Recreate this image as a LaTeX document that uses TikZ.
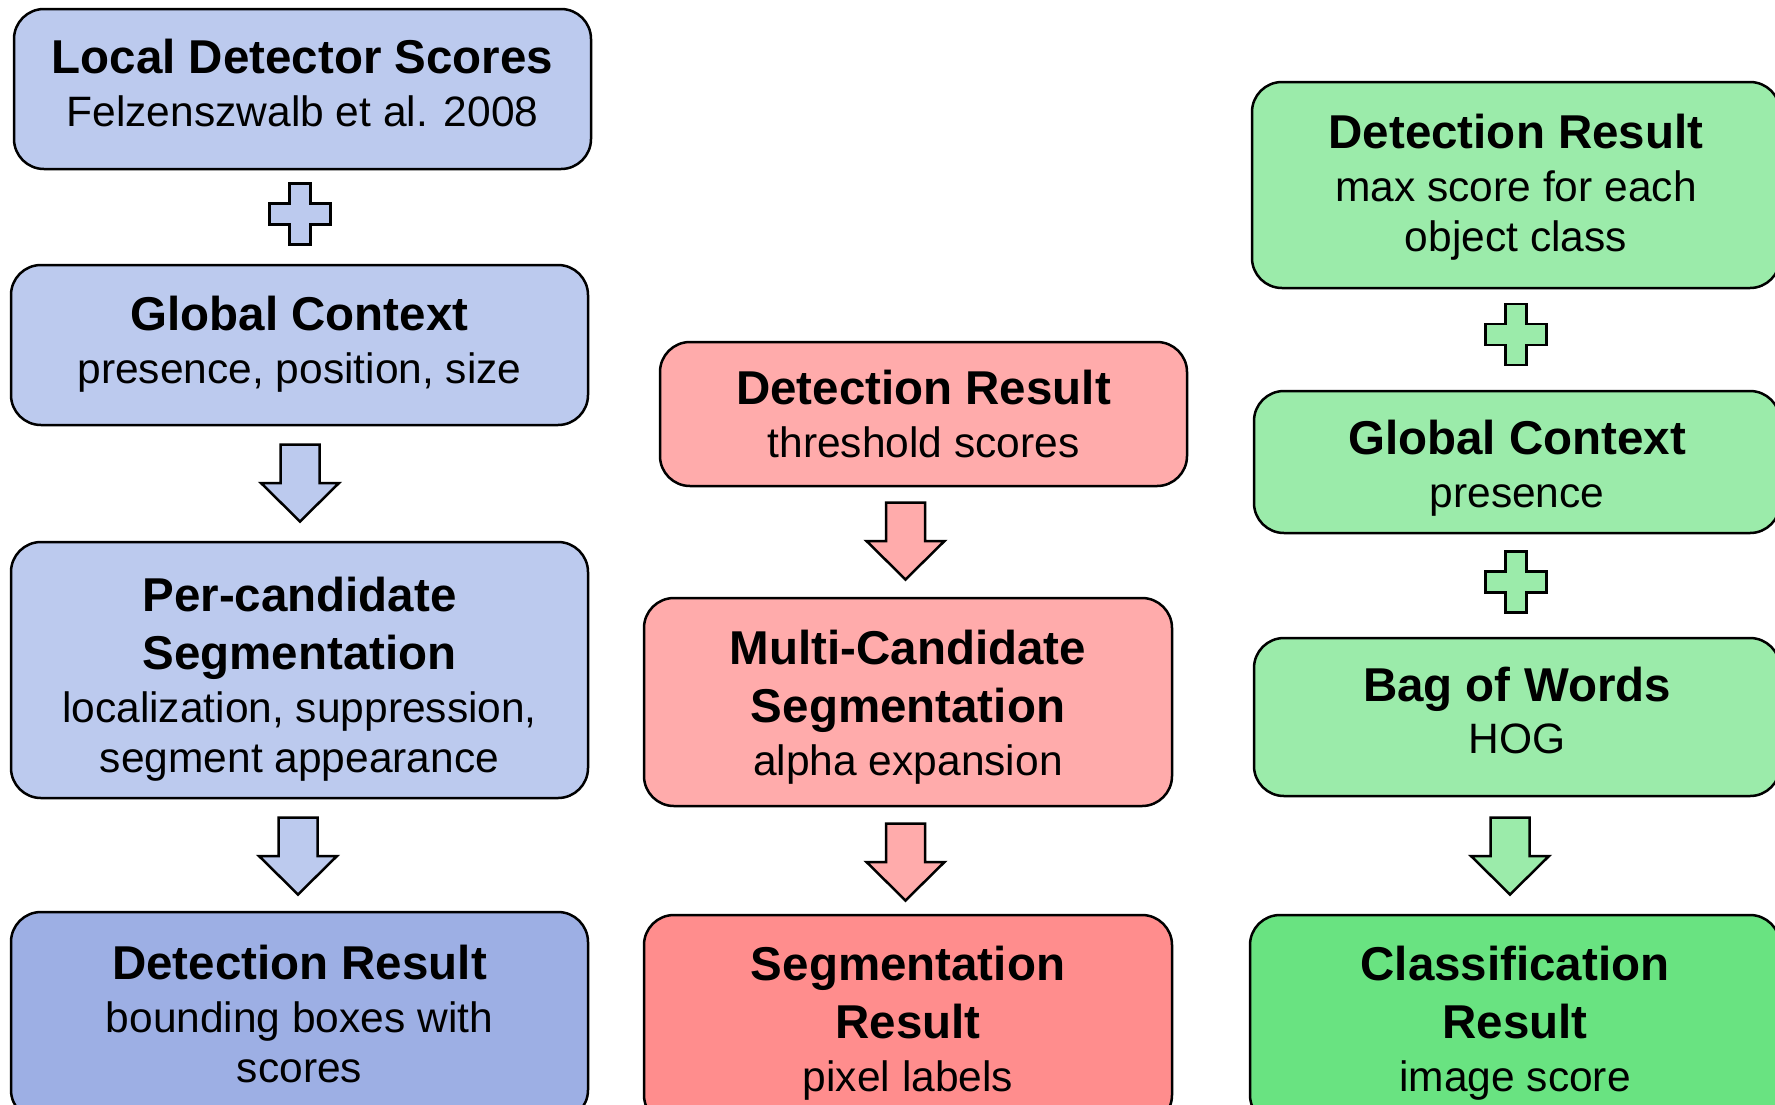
\documentclass[tikz,border=0pt]{standalone}
\usepackage{fontspec}
\setmainfont{Liberation Sans}
\usetikzlibrary{calc}
\definecolor{blueA}{HTML}{BCCAEE}
\definecolor{blueB}{HTML}{9DAFE4}
\definecolor{redA}{HTML}{FFABAB}
\definecolor{redB}{HTML}{FF8D8D}
\definecolor{greenA}{HTML}{9BEBAA}
\definecolor{greenB}{HTML}{69E381}
\newcommand\boxtitle[1]{{\fontsize{47.5}{50}\selectfont\bfseries #1}}
\tikzset{
  stage/.style={draw=black, line width=2.5pt, rounded corners=30pt, inner sep=0pt},
  stagetext/.style={align=center, inner sep=0pt, font=\fontsize{42.5}{50}\selectfont},
  % block plus sign, centred on its origin
  plussign/.pic={
    \path[pic actions] (-10.5,-30.5) -- (10.5,-30.5) -- (10.5,-10.5) -- (30.5,-10.5)
      -- (30.5,10.5) -- (10.5,10.5) -- (10.5,30.5) -- (-10.5,30.5) -- (-10.5,10.5)
      -- (-30.5,10.5) -- (-30.5,-10.5) -- (-10.5,-10.5) -- cycle;
  },
  % block arrow pointing down, centred on its origin
  downarrow/.pic={
    \path[pic actions] (-19.5,-38.5) -- (19.5,-38.5) -- (19.5,0) -- (39,0)
      -- (0,38.5) -- (-39,0) -- (-19.5,0) -- cycle;
  },
  glyph/.style={draw=black, line width=2.5pt, miter limit=10},
}
\begin{document}
\begin{tikzpicture}[x=1pt, y=-1pt]
\useasboundingbox (0,0) rectangle (1775,1104);

% left column: detection
\node[stage, fill=blueA, minimum width=577pt, minimum height=160pt] (b1) at (302.5,89) {};
\node[stagetext] (b1t) at ($(b1.center)+(0,-6)$)
  {\boxtitle{Local Detector Scores}\\[3pt]Felzenszwalb et al. 2008};
\node[stage, fill=blueA, minimum width=577pt, minimum height=160pt] (b2) at (299.5,345) {};
\node[stagetext] (b2t) at ($(b2.center)+(0,-1)$)
  {\boxtitle{Global Context}\\[3pt]presence, position, size};
\node[stage, fill=blueA, minimum width=577pt, minimum height=256pt] (b3) at (299.5,670) {};
\node[stagetext] (b3t) at ($(b3.center)+(0,9)$)
  {\boxtitle{Per-candidate}\\[8pt]\boxtitle{Segmentation}\\[3pt]localization, suppression,\\segment appearance};
\node[stage, fill=blueB, minimum width=577pt, minimum height=208pt] (b4) at (299.5,1016) {};
\node[stagetext] (b4t) at ($(b4.center)+(0,-2)$)
  {\boxtitle{Detection Result}\\[3pt]bounding boxes with\\scores};
\pic[glyph, fill=blueA] (bplus) at (300,214) {plussign};
\pic[glyph, fill=blueA] (barrowA) at (300,483) {downarrow};
\pic[glyph, fill=blueA] (barrowB) at (298,856) {downarrow};

% middle column: segmentation
\node[stage, fill=redA, minimum width=527pt, minimum height=144pt] (r1) at (923.5,414) {};
\node[stagetext] (r1t) at (r1.center)
  {\boxtitle{Detection Result}\\[3pt]threshold scores};
\node[stage, fill=redA, minimum width=528pt, minimum height=208pt] (r2) at (908,702) {};
\node[stagetext] (r2t) at ($(r2.center)+(0,5)$)
  {\boxtitle{Multi-Candidate}\\[8pt]\boxtitle{Segmentation}\\[3pt]alpha expansion};
\node[stage, fill=redB, minimum width=528pt, minimum height=210pt] (r3) at (908,1020) {};
\node[stagetext] (r3t) at ($(r3.center)+(0,3)$)
  {\boxtitle{Segmentation}\\[8pt]\boxtitle{Result}\\[3pt]pixel labels};
\pic[glyph, fill=redA] (rarrowA) at (905.5,541) {downarrow};
\pic[glyph, fill=redA] (rarrowB) at (905.5,862) {downarrow};

% right column: classification
\node[stage, fill=greenA, minimum width=528pt, minimum height=206pt] (g1) at (1516,185) {};
\node[stagetext] (g1t) at ($(g1.center)+(0,2)$)
  {\boxtitle{Detection Result}\\[3pt]max score for each\\object class};
\node[stage, fill=greenA, minimum width=526pt, minimum height=142pt] (g2) at (1517,462) {};
\node[stagetext] (g2t) at ($(g2.center)+(0,6)$)
  {\boxtitle{Global Context}\\[3pt]presence};
\node[stage, fill=greenA, minimum width=526pt, minimum height=158pt] (g3) at (1517,717) {};
\node[stagetext] (g3t) at ($(g3.center)+(0,-7)$)
  {\boxtitle{Bag of Words}\\[2pt]HOG};
\node[stage, fill=greenB, minimum width=530pt, minimum height=210pt] (g4) at (1515,1020) {};
\node[stagetext] (g4t) at ($(g4.center)+(0,3)$)
  {\boxtitle{Classification}\\[8pt]\boxtitle{Result}\\[3pt]image score};
\pic[glyph, fill=greenA] (gplusA) at (1516,334.5) {plussign};
\pic[glyph, fill=greenA] (gplusB) at (1516,582) {plussign};
\pic[glyph, fill=greenA] (garrow) at (1510,856) {downarrow};
\end{tikzpicture}
\end{document}
